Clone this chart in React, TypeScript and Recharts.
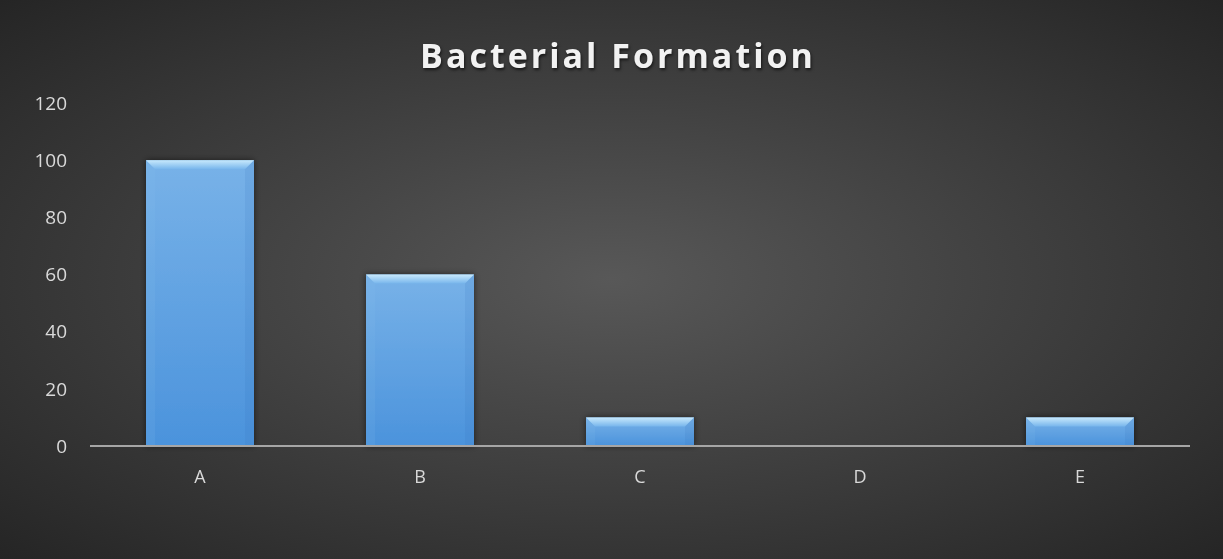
import React from 'react';
import { BarChart, Bar, XAxis, YAxis } from 'recharts';

const categories = ['A', 'B', 'C', 'D', 'E'];
const formation = [100, 60, 10, 0, 10];
const yTicks = [0, 20, 40, 60, 80, 100, 120];

const chartData = categories.map((name, i) => ({ name, value: formation[i] }));

// bevelled bar like the Office "angle" effect
function BevelBar(props: any) {
  const { x, y, width, height } = props;
  if (!height || height <= 0) return null;
  const b = Math.min(9, height / 2);
  return (
    <g filter="url(#barShadow)">
      <rect x={x} y={y} width={width} height={height} fill="url(#barFill)" />
      <polygon
        points={`${x},${y} ${x + width},${y} ${x + width - b},${y + b} ${x + b},${y + b}`}
        fill="url(#bevelTop)"
      />
      <polygon
        points={`${x},${y} ${x + b},${y + b} ${x + b},${y + height} ${x},${y + height}`}
        fill="#8cc3f0"
        fillOpacity={0.12}
      />
      <polygon
        points={`${x + width},${y} ${x + width - b},${y + b} ${x + width - b},${y + height} ${x + width},${y + height}`}
        fill="#2f6fb5"
        fillOpacity={0.12}
      />
    </g>
  );
}

export default function App() {
  const font = '"Open Sans", sans-serif';
  return (
    <div
      style={{
        position: 'fixed',
        left: 0,
        top: 0,
        width: 1223,
        height: 559,
        background: 'radial-gradient(ellipse at 50% 50%, #585858 0%, #3c3c3c 55%, #252525 100%)',
        fontFamily: font,
      }}
    >
      <div
        style={{
          position: 'absolute',
          left: 0,
          top: 30,
          width: 1236,
          textAlign: 'center',
          color: '#f2f2f2',
          fontSize: 34,
          fontWeight: 700,
          letterSpacing: 3,
          lineHeight: '50px',
          textShadow: '1px 2px 3px rgba(0,0,0,0.6)',
        }}
      >
        Bacterial Formation
      </div>
      <BarChart
        width={1223}
        height={559}
        data={chartData}
        margin={{ top: 103, right: 33, bottom: 83, left: 0 }}
        style={{ position: 'absolute', left: 0, top: 0 }}
      >
        <defs>
          <linearGradient id="barFill" x1="0" y1="0" x2="0" y2="1">
            <stop offset="0%" stopColor="#78b2e8" />
            <stop offset="100%" stopColor="#4b93dc" />
          </linearGradient>
          <linearGradient id="bevelTop" x1="0" y1="0" x2="0" y2="1">
            <stop offset="0%" stopColor="#c8e9fc" />
            <stop offset="100%" stopColor="#78b6ec" />
          </linearGradient>
          <filter id="barShadow" x="-20%" y="-20%" width="140%" height="140%">
            <feDropShadow dx="0" dy="0" stdDeviation="3" floodColor="#000" floodOpacity="0.55" />
          </filter>
        </defs>
        <XAxis
          dataKey="name"
          axisLine={{ stroke: '#a6a6a6', strokeWidth: 2 }}
          tickLine={false}
          tickSize={0}
          tickMargin={24}
          tick={{ fill: '#d9d9d9', fontSize: 18, fontFamily: font }}
        />
        <YAxis
          width={90}
          domain={[0, 120]}
          ticks={yTicks}
          axisLine={false}
          tickLine={false}
          tickSize={0}
          tickMargin={23}
          tick={{ fill: '#d9d9d9', fontSize: 19, fontFamily: font }}
        />
        <Bar dataKey="value" barSize={108} shape={<BevelBar />} isAnimationActive={false} />
      </BarChart>
    </div>
  );
}
